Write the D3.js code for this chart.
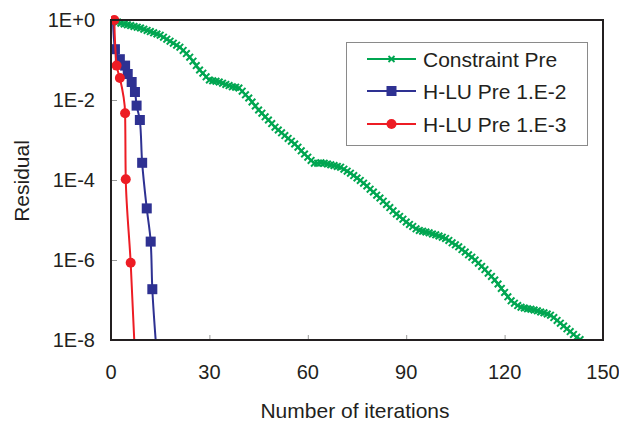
<!DOCTYPE html>
<html>
<head lang="en">
    <meta charset="UTF-8">
    <title>Residual vs iterations</title>
    <script src="https://cdn.jsdelivr.net/npm/d3@7/dist/d3.min.js"></script>
    <style>
        body{margin:0;background:#fff;}
        text{font-family:"Liberation Sans",Arial,sans-serif;fill:#231f20;}
    </style>
</head>
<body>
<script>
    // Constraint Pre: log10(residual) at every iteration 0..143
    var constraintLog=[
        0,-0.03,-0.05,-0.08,-0.10,-0.12,-0.14,-0.16,-0.18,-0.20,
        -0.23,-0.26,-0.29,-0.32,-0.35,-0.38,-0.43,-0.48,-0.53,-0.58,
        -0.63,-0.68,-0.76,-0.84,-0.93,-1.03,-1.14,-1.25,-1.33,-1.42,
        -1.50,-1.52,-1.53,-1.55,-1.58,-1.61,-1.64,-1.67,-1.68,-1.70,
        -1.78,-1.87,-1.95,-2.05,-2.15,-2.25,-2.33,-2.42,-2.50,-2.59,
        -2.68,-2.75,-2.82,-2.89,-2.96,-3.03,-3.10,-3.18,-3.27,-3.35,
        -3.43,-3.51,-3.58,-3.58,-3.57,-3.58,-3.60,-3.62,-3.64,-3.66,
        -3.68,-3.73,-3.78,-3.83,-3.89,-3.95,-4.01,-4.08,-4.15,-4.23,
        -4.30,-4.38,-4.45,-4.53,-4.61,-4.69,-4.77,-4.85,-4.91,-4.98,
        -5.05,-5.11,-5.16,-5.22,-5.26,-5.28,-5.30,-5.32,-5.35,-5.37,
        -5.40,-5.43,-5.46,-5.51,-5.57,-5.62,-5.67,-5.74,-5.80,-5.87,
        -5.93,-6.00,-6.08,-6.16,-6.24,-6.33,-6.41,-6.50,-6.60,-6.71,
        -6.81,-6.92,-7.02,-7.08,-7.14,-7.18,-7.20,-7.22,-7.23,-7.25,
        -7.27,-7.30,-7.32,-7.35,-7.38,-7.44,-7.51,-7.58,-7.65,-7.72,
        -7.79,-7.86,-7.93,-7.99
    ];
    // H-LU Pre 1.E-2
    var hlu2Iter=[0.6,1.2,2.7,4.3,5.1,6.3,7.3,7.8,8.8,9.5,10.9,12.1,12.6,13.8];
    var hlu2Log=[0,-0.73,-0.98,-1.14,-1.35,-1.55,-1.80,-2.14,-2.50,-3.57,-4.71,-5.54,-6.73,-8.2];
    // H-LU Pre 1.E-3
    var hlu3Iter=[1,1.7,2.7,4.3,4.5,6.0,7.2];
    var hlu3Log=[0,-1.14,-1.45,-2.33,-3.98,-6.07,-8.2];

    var xTicks=[0,30,60,90,120,150];
    var yTicks=[1,1e-2,1e-4,1e-6,1e-8];
    var yTickLabels=["1E+0","1E-2","1E-4","1E-6","1E-8"];
    var seriesNames=["Constraint Pre","H-LU Pre 1.E-2","H-LU Pre 1.E-3"];

    var green="#00a651",blue="#2e3192",red="#ed1c24";

    var W=619,H=424;
    var L=111,R=603,T=20,B=340;

    var svg=d3.select("body").append("svg")
            .attr("width",W).attr("height",H);

    var x=d3.scaleLinear().domain([0,150]).range([L,R]);
    var y=d3.scaleLog().domain([1e-8,1]).range([B,T]);

    function toPoints(iters,logs){
        return logs.map(function(v,i){return {x:iters?iters[i]:i,y:Math.pow(10,v)};});
    }
    var gData=toPoints(null,constraintLog);
    var bData=toPoints(hlu2Iter,hlu2Log);
    var rData=toPoints(hlu3Iter,hlu3Log);

    svg.append("clipPath").attr("id","plot")
            .append("rect").attr("x",L).attr("y",T-6).attr("width",R-L+6).attr("height",B-T+6);

    // ticks (inside, grey)
    var yAxis=d3.axisLeft(y).tickValues(yTicks.slice(1,4)).tickSize(-6).tickFormat("");
    svg.append("g").attr("transform","translate("+L+",0)").call(yAxis)
            .call(function(g){g.select(".domain").remove();g.selectAll("line").attr("stroke","#999");});
    var xAxis=d3.axisBottom(x).tickValues(xTicks.slice(1,5)).tickSize(-5).tickFormat("");
    svg.append("g").attr("transform","translate(0,"+B+")").call(xAxis)
            .call(function(g){g.select(".domain").remove();g.selectAll("line").attr("stroke","#999");});

    // tick labels
    svg.append("g").selectAll("text").data(yTicks).enter().append("text")
            .attr("x",95).attr("y",function(d){return y(d)+7;})
            .attr("text-anchor","end").style("font-size","20px")
            .text(function(d,i){return yTickLabels[i];});
    svg.append("g").selectAll("text").data(xTicks).enter().append("text")
            .attr("x",function(d){return x(d);}).attr("y",379)
            .attr("text-anchor","middle").style("font-size","20px")
            .text(function(d){return d;});

    // axis titles
    svg.append("text").attr("x",355).attr("y",418).attr("text-anchor","middle")
            .style("font-size","21px").text("Number of iterations");
    svg.append("text").attr("transform","translate(29,181) rotate(-90)").attr("text-anchor","middle")
            .style("font-size","21px").text("Residual");

    // lines
    var plot=svg.append("g").attr("clip-path","url(#plot)");
    var lineLin=d3.line().x(function(d){return x(d.x);}).y(function(d){return y(d.y);});
    var lineSmooth=d3.line().x(function(d){return x(d.x);}).y(function(d){return y(d.y);}).curve(d3.curveMonotoneY);

    plot.append("path").attr("d",lineLin(gData)).attr("fill","none").attr("stroke",green).attr("stroke-width",2.2);
    plot.selectAll(".gm").data(gData).enter().append("path").attr("class","gm")
            .attr("transform",function(d){return "translate("+x(d.x)+","+y(d.y)+")";})
            .attr("d","M-3.3,-3.3L3.3,3.3M-3.3,3.3L3.3,-3.3").attr("stroke",green).attr("stroke-width",2);

    plot.append("path").attr("d",lineSmooth(bData)).attr("fill","none").attr("stroke",blue).attr("stroke-width",2);
    plot.selectAll(".bm").data(bData.filter(function(d,i){return i>0&&d.y>=1e-8;})).enter().append("rect")
            .attr("x",function(d){return x(d.x)-5;}).attr("y",function(d){return y(d.y)-5;})
            .attr("width",10).attr("height",10).attr("fill",blue);

    plot.append("path").attr("d",lineSmooth(rData)).attr("fill","none").attr("stroke",red).attr("stroke-width",2);
    plot.selectAll(".rm").data(rData.filter(function(d){return d.y>=1e-8;})).enter().append("circle")
            .attr("cx",function(d){return x(d.x);}).attr("cy",function(d){return y(d.y);})
            .attr("r",5).attr("fill",red);

    // frame
    svg.append("rect").attr("x",L).attr("y",T).attr("width",R-L).attr("height",B-T)
            .attr("fill","none").attr("stroke","#231f20").attr("stroke-width",2);

    // legend
    var lg=svg.append("g");
    lg.append("rect").attr("x",346.5).attr("y",42.5).attr("width",241).attr("height",103)
            .attr("fill","#fff").attr("stroke","#8a8a8a").attr("stroke-width",1);
    var rows=[59,91,124],cols=[green,blue,red];
    seriesNames.forEach(function(name,i){
        var ry=rows[i];
        lg.append("line").attr("x1",367).attr("x2",416).attr("y1",ry).attr("y2",ry)
                .attr("stroke",cols[i]).attr("stroke-width",2);
        if(i===0){
            lg.append("path").attr("transform","translate(391.5,"+ry+")")
                    .attr("d","M-3,-3L3,3M-3,3L3,-3").attr("stroke",green).attr("stroke-width",1.8);
        }else if(i===1){
            lg.append("rect").attr("x",386.5).attr("y",ry-5).attr("width",10).attr("height",10).attr("fill",blue);
        }else{
            lg.append("circle").attr("cx",391.5).attr("cy",ry).attr("r",5).attr("fill",red);
        }
        lg.append("text").attr("x",423).attr("y",ry+7.5).style("font-size","21px").text(name);
    });
</script>
</body>
</html>
